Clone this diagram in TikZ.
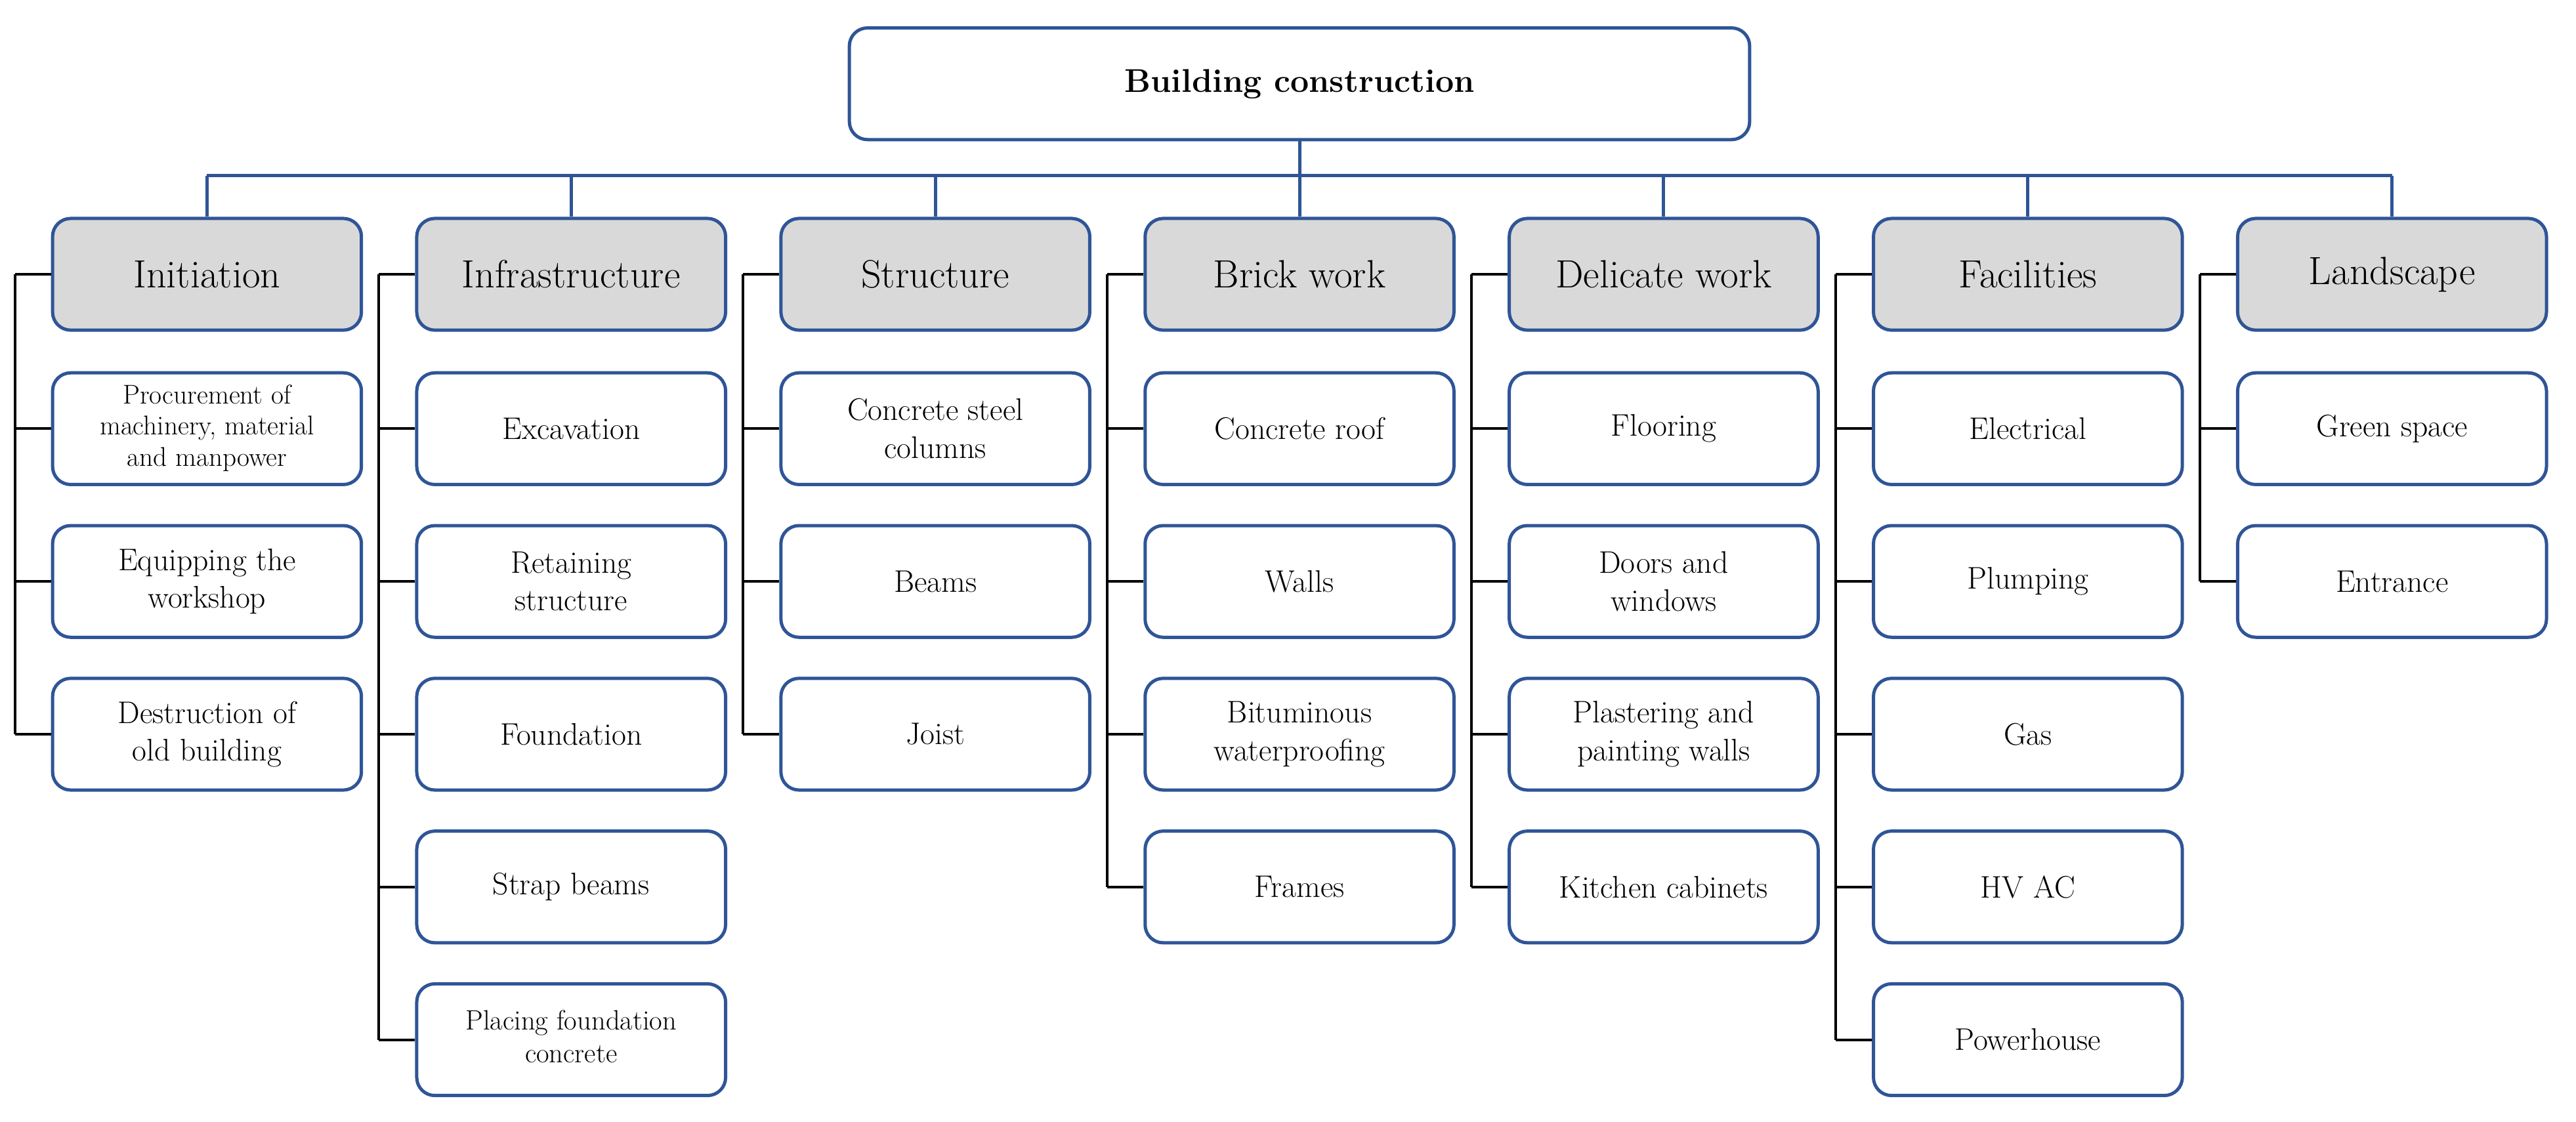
\documentclass[tikz,border=0pt]{standalone}
\definecolor{bl}{RGB}{47,85,151}
\newcommand{\smA}{\fontsize{16.5}{19}\selectfont}
\newcommand{\smB}{\fontsize{17}{20}\selectfont}
\begin{document}
\begin{tikzpicture}[x=1pt,y=-1pt,
  box/.style={draw=bl, line width=2pt, rounded corners=11pt, minimum width=188pt, minimum height=68pt, align=center, font=\fontsize{19}{23}\selectfont, fill=white, inner sep=2pt},
  head/.style={box, fill=gray!30, font=\fontsize{24}{28}\selectfont},
  bus/.style={draw=bl, line width=2pt},
  br/.style={draw=black, line width=1.6pt}]
\useasboundingbox (0,0) rectangle (1568,683);
\node[box, minimum width=548pt, font=\bfseries\fontsize{20}{24}\selectfont] (root) at (791,51) {Building construction};
\coordinate (busL) at (126,107);
\coordinate (busR) at (1456,107);
\draw[bus] (root.south) -- (root.south |- busL);
\draw[bus] (busL) -- (busR);
\foreach \name/\i/\title/\kids in {
 a/0/Initiation/{{\smA\begin{tabular}{@{}c@{}}Procurement of\\machinery, material\\and manpower\end{tabular}},{Equipping the\\workshop},{Destruction of\\old building}},
 b/1/Infrastructure/{Excavation,{Retaining\\structure},Foundation,Strap beams,{\smB\begin{tabular}{@{}c@{}}Placing foundation\\concrete\end{tabular}}},
 c/2/Structure/{{Concrete steel\\columns},Beams,Joist},
 d/3/Brick work/{Concrete roof,Walls,{Bituminous\\waterproofing},Frames},
 e/4/Delicate work/{Flooring,{Doors and\\windows},{Plastering and\\painting walls},Kitchen cabinets},
 f/5/Facilities/{Electrical,Plumping,Gas,HV AC,Powerhouse},
 g/6/Landscape/{Green space,Entrance}} {
  \pgfmathsetmacro{\cx}{126+221.67*\i}
  \node[head] (\name h) at (\cx,167) {\title};
  \draw[bus] (\name h.north) -- (\name h.north |- busL);
  \coordinate (\name v) at ([xshift=-22pt]\name h.west);
  \draw[br] (\name h.west) -- (\name v);
  \foreach \k [count=\j] in \kids {
    \node[box] (\name\j) at (\cx,{261+93*(\j-1)}) {\k};
    \draw[br] (\name\j.west) -- (\name v |- \name\j.west);
    \xdef\last{\j}
  }
  \draw[br] (\name v) -- (\name v |- \name\last.west);
}
\end{tikzpicture}
\end{document}
